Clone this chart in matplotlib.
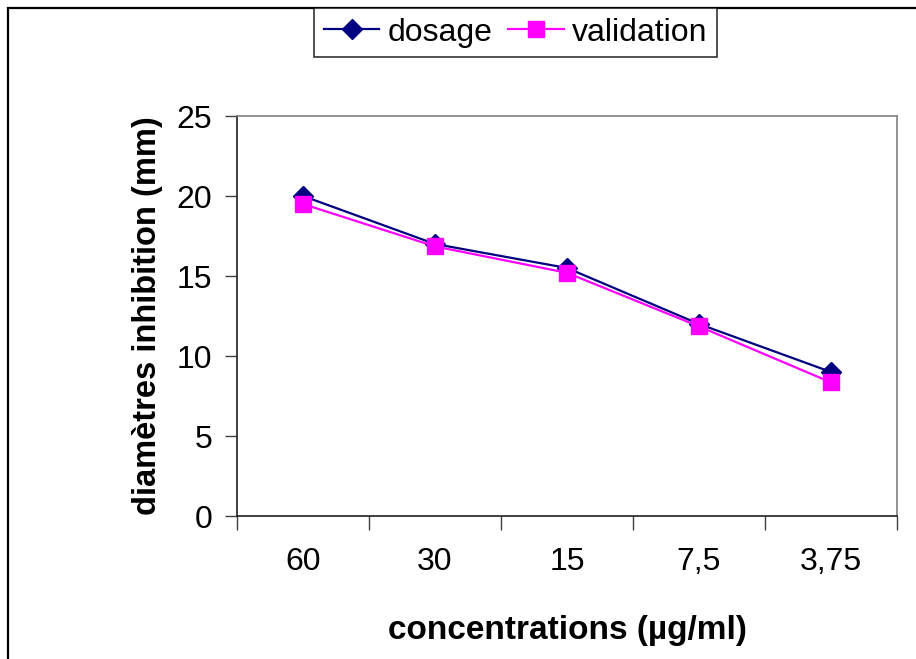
import matplotlib
matplotlib.use("Agg")
import matplotlib.pyplot as plt
from matplotlib.patches import Rectangle
from matplotlib.ticker import FixedLocator, NullFormatter

categories = ["60", "30", "15", "7,5", "3,75"]
dosage = [20.0, 17.0, 15.5, 12.0, 9.0]
validation = [19.5, 16.85, 15.2, 11.85, 8.35]
yticks = [0, 5, 10, 15, 20, 25]

W, H = 916, 659
fig = plt.figure(figsize=(W / 100, H / 100), dpi=100)
plt.rcParams['font.family'] = ['Liberation Sans', 'DejaVu Sans']

# outer chart border
fig.patches.append(Rectangle((8 / W, -0.1), 1.2, (H - 8) / H + 0.1, transform=fig.transFigure,
                             fill=False, edgecolor='black', linewidth=1.6, zorder=0))

ax = fig.add_axes([237 / W, (H - 516) / H, 660 / W, 400 / H])
x = list(range(len(categories)))
ax.plot(x, dosage, color='#000080', marker='D', markersize=10, linewidth=1.6,
        label='dosage', zorder=3)
ax.plot(x, validation, color='#FF00FF', marker='s', markersize=11, linewidth=1.6,
        label='validation', zorder=4)

ax.set_xlim(-0.5, len(categories) - 0.5)
ax.set_ylim(0, 25)
ax.set_yticks(yticks)
ax.set_xticks(x)
ax.set_xticklabels(categories)
ax.xaxis.set_minor_locator(FixedLocator([i - 0.5 for i in range(len(categories) + 1)]))
ax.xaxis.set_minor_formatter(NullFormatter())
ax.tick_params(axis='x', which='major', length=0, pad=22, labelsize=23)
ax.tick_params(axis='x', which='minor', length=10, width=1, color='#404040', direction='out')
ax.tick_params(axis='y', length=9, width=1, color='#404040', direction='out', pad=9, labelsize=23)

for s in ['top', 'right']:
    ax.spines[s].set_color('#808080')
    ax.spines[s].set_linewidth(1.2)
for s in ['left', 'bottom']:
    ax.spines[s].set_color('#202020')
    ax.spines[s].set_linewidth(1.2)

ax.set_xlabel('concentrations (µg/ml)', fontsize=24, fontweight='bold')
ax.xaxis.set_label_coords(0.5, -0.2475)
ax.set_ylabel('diamètres inhibition (mm)', fontsize=23.5, fontweight='bold')
ax.yaxis.set_label_coords(-0.112, 0.5)

leg = fig.legend(loc='upper left', bbox_to_anchor=(314 / W, 1 - 8 / H), ncol=2,
                 fontsize=23, frameon=True, fancybox=False, borderpad=0.3,
                 handlelength=1.75, handletextpad=0.25, columnspacing=0.5,
                 borderaxespad=0)
leg.get_frame().set_edgecolor('black')
leg.get_frame().set_linewidth(1.2)

fig.savefig('out.png', dpi=100)
